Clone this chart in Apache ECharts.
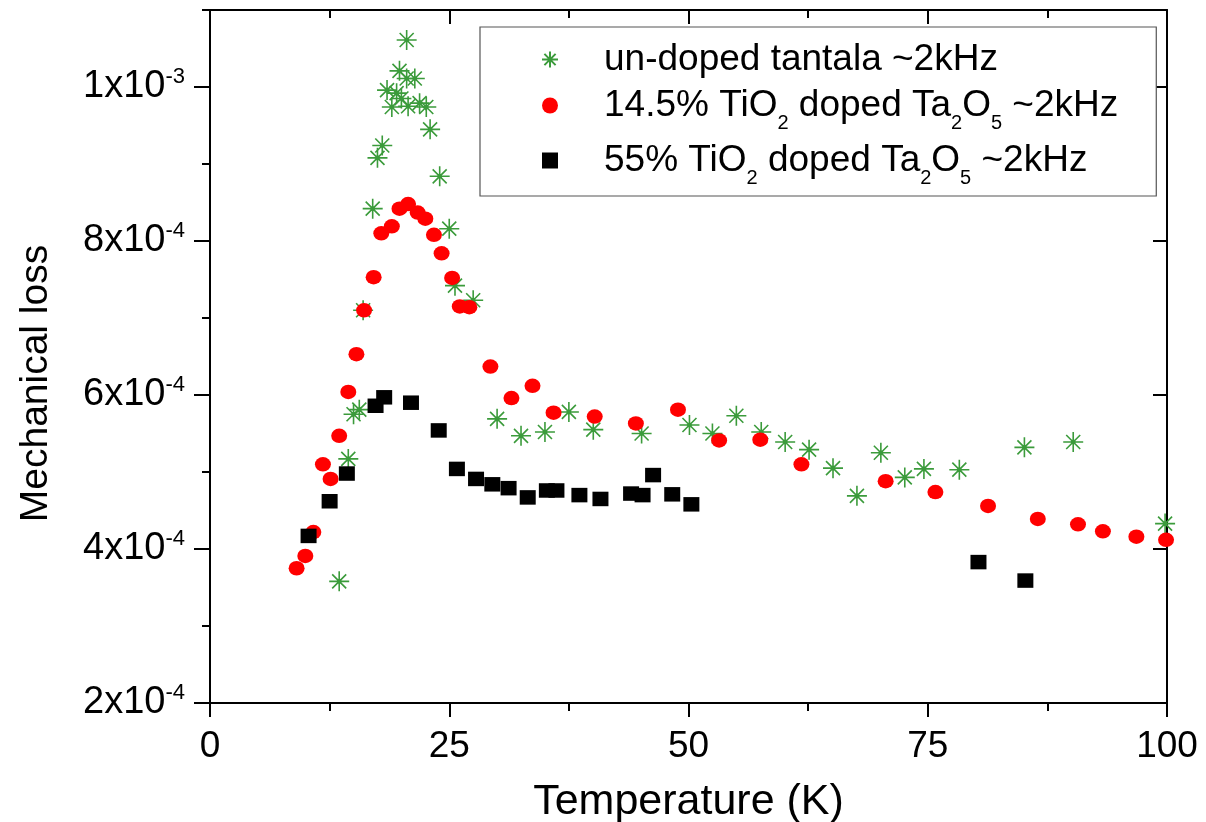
<!DOCTYPE html>
<html><head><meta charset="utf-8">
<script src="https://cdn.jsdelivr.net/npm/echarts@6/dist/echarts.min.js"></script>
<style>html,body{margin:0;padding:0;background:#fff}#c{width:1206px;height:822px}</style>
</head><body><div id="c"></div>
<script>
// ---- data ----
const seriesNames = ['un-doped tantala ~2kHz', '14.5% TiO2 doped Ta2O5 ~2kHz', '55% TiO2 doped Ta2O5 ~2kHz'];

const undopedT = [13.5, 14.45, 15.0, 15.6, 16.0, 17.0, 17.5, 18.0, 18.5, 19.0, 19.5, 19.8, 20.0, 20.55, 20.55, 20.7, 21.4, 21.9, 22.6, 23.0, 24.0, 25.0, 25.6, 27.5, 30.0, 32.5, 35.0, 37.5, 40.05, 45.1, 50.1, 52.5, 55.0, 57.6, 60.1, 62.6, 65.1, 67.6, 70.1, 72.6, 74.6, 78.3, 85.1, 90.2, 99.8];
const undopedLoss = [3.58e-4, 5.17e-4, 5.75e-4, 5.81e-4, 7.10e-4, 8.42e-4, 9.08e-4, 9.24e-4, 9.96e-4, 9.74e-4, 9.92e-4, 10.21e-4, 9.85e-4, 10.61e-4, 10.11e-4, 9.75e-4, 10.11e-4, 9.79e-4, 9.74e-4, 9.45e-4, 8.84e-4, 8.16e-4, 7.42e-4, 7.23e-4, 5.69e-4, 5.47e-4, 5.52e-4, 5.78e-4, 5.55e-4, 5.50e-4, 5.61e-4, 5.50e-4, 5.73e-4, 5.52e-4, 5.39e-4, 5.29e-4, 5.05e-4, 4.69e-4, 5.25e-4, 4.93e-4, 5.04e-4, 5.03e-4, 5.32e-4, 5.39e-4, 4.33e-4];

const ti145T = [9.05, 9.96, 10.8, 11.8, 12.6, 13.5, 14.45, 15.3, 16.1, 17.1, 17.9, 19.0, 19.8, 20.7, 21.7, 22.5, 23.4, 24.2, 25.3, 26.1, 27.1, 29.3, 31.5, 33.7, 35.9, 40.2, 44.5, 48.9, 53.2, 57.5, 61.8, 70.6, 75.8, 81.3, 86.5, 90.7, 93.3, 96.8, 99.9];
const ti145Loss = [3.75e-4, 3.91e-4, 4.22e-4, 5.10e-4, 4.91e-4, 5.47e-4, 6.04e-4, 6.53e-4, 7.10e-4, 7.53e-4, 8.10e-4, 8.19e-4, 8.42e-4, 8.48e-4, 8.37e-4, 8.29e-4, 8.08e-4, 7.84e-4, 7.52e-4, 7.15e-4, 7.14e-4, 6.37e-4, 5.96e-4, 6.12e-4, 5.77e-4, 5.72e-4, 5.63e-4, 5.81e-4, 5.41e-4, 5.42e-4, 5.10e-4, 4.88e-4, 4.74e-4, 4.56e-4, 4.39e-4, 4.32e-4, 4.23e-4, 4.16e-4, 4.12e-4];

const ti55T = [10.3, 12.5, 14.3, 17.3, 18.2, 21.0, 23.9, 25.8, 27.8, 29.5, 31.2, 33.2, 35.2, 36.2, 38.6, 40.8, 44.0, 45.2, 46.3, 48.3, 50.3, 80.3, 85.2];
const ti55Loss = [4.17e-4, 4.62e-4, 4.98e-4, 5.86e-4, 5.97e-4, 5.90e-4, 5.54e-4, 5.04e-4, 4.91e-4, 4.84e-4, 4.79e-4, 4.67e-4, 4.76e-4, 4.76e-4, 4.70e-4, 4.65e-4, 4.72e-4, 4.70e-4, 4.96e-4, 4.71e-4, 4.58e-4, 3.83e-4, 3.59e-4];

const xTicks = [0, 25, 50, 75, 100];
const yTicks = [2e-4, 4e-4, 6e-4, 8e-4, 1e-3];
const xTitle = 'Temperature (K)';
const yTitle = 'Mechanical loss';

// ---- chart ----
const FONT = 'Liberation Sans, Arial, Helvetica, sans-serif';
const STAR = 'path://M0,-10L0,10M-10,0L10,0M-7,-7L7,7M-7,7L7,-7M-1.5,-1.5L1.5,-1.5L1.5,1.5L-1.5,1.5Z';
const SQUARE = 'path://M0,0L10,0L10,10L0,10Z';
const pair = (xs, ys) => xs.map((x, i) => [x, ys[i]]);
const black = { color: '#000', width: 2 };

function yFmt(v) {
  const e = Math.floor(Math.log10(v) + 1e-9);
  const m = Math.round(v / Math.pow(10, e));
  return '{m|' + m + 'x10}{s|-' + (-e) + '}';
}

const chart = echarts.init(document.getElementById('c'));
chart.setOption({
  animation: false,
  backgroundColor: '#fff',
  grid: { left: 210, right: 39, top: 10, bottom: 119, containLabel: false, outerBoundsMode: 'none' },
  xAxis: [
    {
      type: 'value', min: 0, max: 100, interval: 25, position: 'bottom',
      axisLine: { show: true, onZero: false, lineStyle: black },
      axisTick: { show: true, inside: false, length: 14, lineStyle: black },
      minorTick: { show: true, splitNumber: 2, length: 8, lineStyle: black },
      axisLabel: { color: '#000', fontSize: 37, fontFamily: FONT, margin: 25, customValues: xTicks },
      splitLine: { show: false },
      name: xTitle, nameLocation: 'middle', nameGap: 78,
      nameTextStyle: { color: '#000', fontSize: 43, fontFamily: FONT, lineHeight: 43 }
    },
    {
      type: 'value', min: 0, max: 100, interval: 25, position: 'top',
      axisLine: { show: true, onZero: false, lineStyle: black },
      axisTick: { show: true, inside: true, length: 14, lineStyle: black },
      minorTick: { show: true, splitNumber: 2, length: 8, lineStyle: black },
      axisLabel: { show: false }, splitLine: { show: false }
    }
  ],
  yAxis: [
    {
      type: 'value', min: 2e-4, max: 1.1e-3, interval: 2e-4, position: 'left',
      axisLine: { show: true, onZero: false, lineStyle: black },
      axisTick: { show: true, inside: false, length: 16, lineStyle: black, customValues: yTicks },
      axisLabel: {
        customValues: yTicks, margin: 25, formatter: yFmt,
        rich: {
          m: { fontSize: 38, fontFamily: FONT, color: '#000', lineHeight: 42 },
          s: { fontSize: 22, fontFamily: FONT, color: '#000', lineHeight: 11, verticalAlign: 'top' }
        }
      },
      splitLine: { show: false },
      name: yTitle, nameLocation: 'middle', nameGap: 154,
      nameTextStyle: { color: '#000', fontSize: 39, fontFamily: FONT, lineHeight: 40, padding: [0, 54, 0, 0] }
    },
    {
      type: 'value', min: 2e-4, max: 1.1e-3, interval: 1e-4, position: 'left',
      axisLine: { show: false }, axisTick: { show: true, inside: false, length: 8, lineStyle: black },
      axisLabel: { show: false }, splitLine: { show: false }
    },
    {
      type: 'value', min: 2e-4, max: 1.1e-3, interval: 2e-4, position: 'right',
      axisLine: { show: true, onZero: false, lineStyle: black },
      axisTick: { show: true, inside: true, length: 14, lineStyle: black, customValues: yTicks },
      axisLabel: { show: false }, splitLine: { show: false }
    },
    {
      type: 'value', min: 2e-4, max: 1.1e-3, interval: 1e-4, position: 'right',
      axisLine: { show: false }, axisTick: { show: true, inside: true, length: 8, lineStyle: black },
      axisLabel: { show: false }, splitLine: { show: false }
    }
  ],
  legend: {
    orient: 'vertical', left: 480, top: 27, padding: [14, 38, 8, 61], itemGap: 0,
    itemWidth: 98, itemHeight: 16,
    borderColor: '#555', borderWidth: 1.2, backgroundColor: '#fff',
    textStyle: {
      fontSize: 37, fontFamily: FONT, color: '#000', lineHeight: 55,
      rich: { s: { fontSize: 20, fontFamily: FONT, color: '#000', lineHeight: 17, verticalAlign: 'bottom' } }
    },
    formatter: name => name.replace('TiO2', 'TiO{s|2}').replace('Ta2O5', 'Ta{s|2}O{s|5}'),
    data: [
      { name: seriesNames[0], textStyle: { lineHeight: 22 } },
      { name: seriesNames[1] },
      { name: seriesNames[2], icon: SQUARE }
    ]
  },
  series: [
    {
      name: seriesNames[0], type: 'scatter', xAxisIndex: 0, yAxisIndex: 0,
      data: pair(undopedT, undopedLoss), symbol: STAR, symbolSize: 20,
      itemStyle: { color: '#0a6e0a', borderColor: '#3b9b3b', borderWidth: 1.6, opacity: 1 }
    },
    {
      name: seriesNames[1], type: 'scatter', xAxisIndex: 0, yAxisIndex: 0,
      data: pair(ti145T, ti145Loss), symbol: 'circle', symbolSize: [16, 14.5],
      itemStyle: { color: '#ff0000', opacity: 1 }
    },
    {
      name: seriesNames[2], type: 'scatter', xAxisIndex: 0, yAxisIndex: 0,
      data: pair(ti55T, ti55Loss), symbol: 'rect', symbolSize: [16, 14.5],
      itemStyle: { color: '#000000', opacity: 1 }
    }
  ]
});
</script></body></html>
